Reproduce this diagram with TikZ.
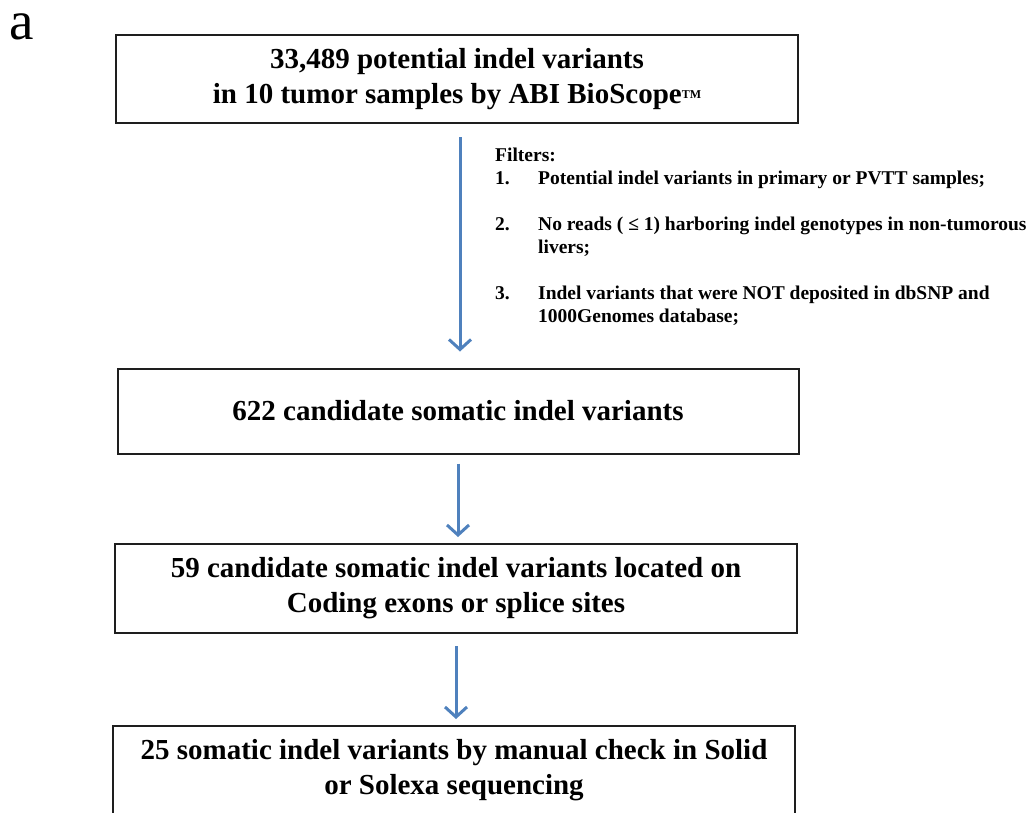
\documentclass[tikz,border=0pt]{standalone}
\usepackage{fontspec}
\setmainfont{Liberation Serif}
\usetikzlibrary{arrows.meta}
\definecolor{arrowblue}{RGB}{79,129,189}
\definecolor{boxline}{RGB}{30,30,30}
\tikzset{
  flowbox/.style={draw=boxline, line width=2pt, inner sep=0pt, align=center,
    font=\fontsize{29}{35}\selectfont\bfseries},
  flowarrow/.style={draw=arrowblue, line width=3pt,
    -{Straight Barb[length=10pt,width=22pt,line width=3pt]}},
  filtertext/.style={inner sep=0pt, anchor=base west,
    font=\fontsize{19.5}{23}\selectfont\bfseries}
}
\begin{document}
\begin{tikzpicture}[x=1pt,y=-1pt]
\useasboundingbox (0,0) rectangle (1029,812);
\node[anchor=base west, inner sep=0pt, text height=28pt, text depth=1pt,
  font=\fontsize{55}{55}\selectfont] (lbl) at (9,39) {a};
\node[flowbox, minimum width=682pt, minimum height=88pt] (b1) at (457,79)
  {33,489 potential indel variants\\in 10 tumor samples by ABI BioScope\raisebox{5pt}{\fontsize{12}{12}\selectfont TM}};
\node[flowbox, minimum width=681pt, minimum height=85pt] (b2) at (458,411)
  {622 candidate somatic indel variants};
\node[flowbox, minimum width=682pt, minimum height=89pt] (b3) at (456,588.5)
  {59 candidate somatic indel variants located on\\Coding exons or splice sites};
\node[flowbox, minimum width=682pt, minimum height=89pt] (b4) at (454,770.5)
  {25 somatic indel variants by manual check in Solid\\or Solexa sequencing};
% filters
\node[filtertext] (ft) at (495,161) {Filters:};
\node[filtertext] (f1n) at (495,184) {1.};
\node[filtertext] (f1) at (538,184) {Potential indel variants in primary or PVTT samples;};
\node[filtertext] (f2n) at (495,230) {2.};
\node[filtertext] (f2) at (538,230) {No reads ( ≤ 1) harboring indel genotypes in non-tumorous};
\node[filtertext] (f2b) at (538,253) {livers;};
\node[filtertext] (f3n) at (495,299) {3.};
\node[filtertext] (f3) at (538,299) {Indel variants that were NOT deposited in dbSNP and};
\node[filtertext] (f3b) at (538,322) {1000Genomes database;};
% arrows
\draw[flowarrow] ([xshift=3pt,yshift=-13pt]b1.south) -- ([xshift=2pt,yshift=16pt]b2.north);
\draw[flowarrow] ([yshift=-9pt]b2.south) -- ([xshift=2pt,yshift=6pt]b3.north);
\draw[flowarrow] ([yshift=-12pt]b3.south) -- ([xshift=2pt,yshift=6pt]b4.north);
\end{tikzpicture}
\end{document}
